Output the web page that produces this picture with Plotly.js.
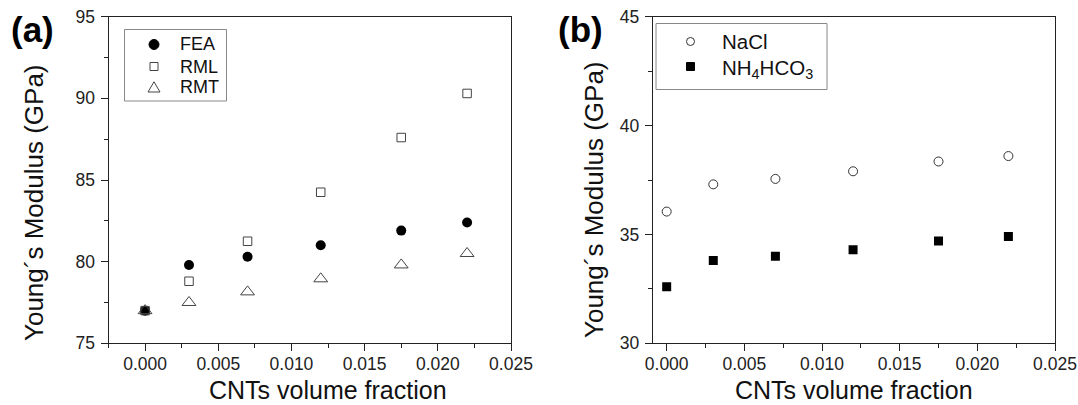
<!DOCTYPE html>
<html><head><meta charset="utf-8">
<script src="https://cdn.plot.ly/plotly-3.0.1.min.js"></script>
<style>html,body{margin:0;padding:0;background:#fff}#chart{width:1078px;height:405px}</style>
</head><body><div id="chart"></div>
<script>
// ---- data ----
const xFrac = [0.000, 0.003, 0.007, 0.012, 0.0175, 0.022];
const feaVals = [77.0, 79.8, 80.3, 81.0, 81.9, 82.4];
const rmlVals = [77.0, 78.8, 81.25, 84.25, 87.6, 90.3];
const rmtVals = [77.0, 77.5, 78.15, 78.95, 79.8, 80.5];
const naclVals = [36.05, 37.3, 37.55, 37.9, 38.35, 38.6];
const nh4Vals = [32.6, 33.8, 34.0, 34.3, 34.7, 34.9];
const seriesNamesA = ["FEA", "RML", "RMT"];
const seriesNamesB = ["NaCl", "NH<sub>4</sub>HCO<sub>3</sub>"];
const xTitle = "CNTs volume fraction";
const yTitle = "Young\u00B4s Modulus (GPa)";
const panelLabels = ["(a)", "(b)"];

// ---- helpers ----
const W = 1078, H = 405;
const FONT = "Liberation Sans, Arial, sans-serif";
const px = v => v / W;
const py = v => 1 - v / H;

const mA = [
  {symbol: "circle", size: 10, color: "#000"},
  {symbol: "square-open", size: 8.5, color: "#444", line: {width: 1}},
  {symbol: "triangle-up-open", size: 12, color: "#444", line: {width: 1}}
];
const mB = [
  {symbol: "circle-open", size: 9, color: "#333", line: {width: 1}},
  {symbol: "square", size: 9, color: "#000"}
];
const valsA = [feaVals, rmlVals, rmtVals];
const valsB = [naclVals, nh4Vals];
const traces = [];
valsA.forEach((v, i) => traces.push({x: xFrac, y: v, name: seriesNamesA[i], type: "scatter", mode: "markers",
  xaxis: "x", yaxis: "y", marker: mA[i], showlegend: false}));
valsB.forEach((v, i) => traces.push({x: xFrac, y: v, name: seriesNamesB[i], type: "scatter", mode: "markers",
  xaxis: "x2", yaxis: "y2", marker: mB[i], showlegend: false}));

function xax(domain, range, anchor) {
  return {domain: domain, range: range, anchor: anchor, tick0: 0, dtick: 0.005, tickformat: ".3f",
    ticks: "outside", ticklen: 7, tickwidth: 1, tickcolor: "#222",
    minor: {dtick: 0.0025, tick0: 0, ticks: "outside", ticklen: 4, tickcolor: "#222"},
    showline: true, linecolor: "#222", linewidth: 1, mirror: true, showgrid: false, zeroline: false,
    ticklabelstandoff: -2,
    tickfont: {size: 17.5, color: "#222", family: FONT}};
}
function yax(domain, range, anchor) {
  return {domain: domain, range: range, anchor: anchor, dtick: 5, tick0: 0,
    ticks: "outside", ticklen: 7, tickwidth: 1, tickcolor: "#222",
    minor: {dtick: 2.5, ticks: "outside", ticklen: 4, tickcolor: "#222"},
    showline: true, linecolor: "#222", linewidth: 1, mirror: true, showgrid: false, zeroline: false,
    ticklabelstandoff: 2,
    tickfont: {size: 17.5, color: "#222", family: FONT}};
}
const yd = [py(343.3), py(16.7)];

const ann = [];
const shapes = [];
function text(t, x, y, size, opts) {
  ann.push(Object.assign({text: t, xref: "paper", yref: "paper", x: px(x), y: py(y), xanchor: "center", yanchor: "middle",
    showarrow: false, borderpad: 0, font: {size: size, family: FONT, color: "#111"}}, opts || {}));
}
// panel labels
text("<b>" + panelLabels[0] + "</b>", 10, 29, 35, {xanchor: "left", font: {size: 35, family: FONT, color: "#000"}});
text("<b>" + panelLabels[1] + "</b>", 557, 29, 35, {xanchor: "left", font: {size: 35, family: FONT, color: "#000"}});
// axis titles
text(xTitle, 328, 390, 25);
text(xTitle, 854, 390, 25);
text(yTitle, 34, 203, 26, {textangle: -90});
text(yTitle, 594, 199, 26, {textangle: -90});

// legend (a)
shapes.push({type: "rect", xref: "paper", yref: "paper", x0: px(124.5), x1: px(226.5), y0: py(29.5), y1: py(101),
  line: {color: "#888", width: 1}, fillcolor: "rgba(0,0,0,0)"});
const legA = [44.5, 66.5, 87.5];
function sym(kind, cx, cy, r, fill, stroke) {
  if (kind === "circle") shapes.push({type: "circle", xref: "paper", yref: "paper", x0: px(cx - r), x1: px(cx + r), y0: py(cy + r), y1: py(cy - r),
    fillcolor: fill, line: {color: stroke, width: 1}});
  else if (kind === "square") shapes.push({type: "rect", xref: "paper", yref: "paper", x0: px(cx - r), x1: px(cx + r), y0: py(cy + r), y1: py(cy - r),
    fillcolor: fill, line: {color: stroke, width: 1}});
  else if (kind === "triangle") shapes.push({type: "path", xref: "paper", yref: "paper",
    path: `M ${px(cx - r)} ${py(cy + r * 0.75)} L ${px(cx + r)} ${py(cy + r * 0.75)} L ${px(cx)} ${py(cy - r * 0.95)} Z`,
    fillcolor: fill, line: {color: stroke, width: 1}});
}
sym("circle", 154, legA[0], 5, "#000", "#000");
sym("square", 154, legA[1], 4, "rgba(0,0,0,0)", "#444");
sym("triangle", 154, legA[2], 6, "rgba(0,0,0,0)", "#444");
seriesNamesA.forEach((n, i) => text(n, 178.5, legA[i], 18, {xanchor: "left"}));

// legend (b)
shapes.push({type: "rect", xref: "paper", yref: "paper", x0: px(656), x1: px(827), y0: py(23.5), y1: py(89.5),
  line: {color: "#888", width: 1}, fillcolor: "rgba(0,0,0,0)"});
const legB = [41.5, 66.5];
sym("circle", 690.5, legB[0], 4, "rgba(0,0,0,0)", "#333");
sym("square", 690.5, legB[1], 4, "#000", "#000");
text(seriesNamesB[0], 721, legB[0], 20.5, {xanchor: "left"});
text(seriesNamesB[1], 721, legB[1] + 2, 20.5, {xanchor: "left"});

const layout = {
  width: W, height: H, margin: {l: 0, r: 0, t: 0, b: 0},
  paper_bgcolor: "#fff", plot_bgcolor: "#fff",
  font: {family: FONT, color: "#111", size: 18},
  xaxis: xax([px(108.5), px(511)], [-0.0025, 0.025], "y"),
  yaxis: yax(yd, [75, 95], "x"),
  xaxis2: xax([px(652.7), px(1055)], [-0.0009, 0.025], "y2"),
  yaxis2: yax(yd, [30, 45], "x2"),
  annotations: ann, shapes: shapes, showlegend: false
};
Plotly.newPlot("chart", traces, layout, {displayModeBar: false, staticPlot: true});
</script></body></html>
